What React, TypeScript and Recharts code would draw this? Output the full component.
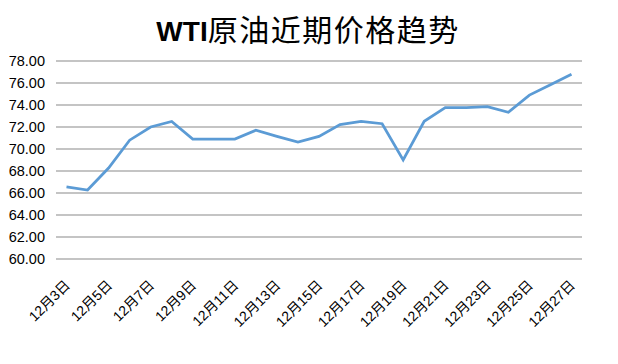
import React from 'react';
import { LineChart, Line, XAxis, YAxis, CartesianGrid } from 'recharts';

const dates = [
  '12月3日', '12月4日', '12月5日', '12月6日', '12月7日', '12月8日', '12月9日',
  '12月10日', '12月11日', '12月12日', '12月13日', '12月14日', '12月15日', '12月16日',
  '12月17日', '12月18日', '12月19日', '12月20日', '12月21日', '12月22日', '12月23日',
  '12月24日', '12月25日', '12月26日', '12月27日',
];

const prices = [
  66.55, 66.27, 68.27, 70.8, 72.0, 72.5, 70.9, 70.9, 70.9, 71.7, 71.15, 70.62, 71.15,
  72.22, 72.52, 72.3, 69.0, 72.52, 73.76, 73.76, 73.85, 73.34, 74.9, 75.85, 76.8,
];

const yTicks = [60, 62, 64, 66, 68, 70, 72, 74, 76, 78];

const chartData = dates.map((d, i) => ({ date: d, price: prices[i] }));

const labelFont = '"Liberation Sans", "Noto Sans CJK SC", sans-serif';

const DateTick = (props: any) => {
  const { x, y, payload } = props;
  const ex = x + 4.5;
  const ey = y + 27;
  return (
    <text
      x={ex}
      y={ey}
      textAnchor="end"
      fontSize={14}
      fill="#000"
      fontFamily={labelFont}
      transform={`rotate(-45, ${ex}, ${ey})`}
    >
      {payload.value}
    </text>
  );
};

const App: React.FC = () => {
  return (
    <div style={{ position: 'absolute', left: 0, top: 0, width: 618, height: 364, background: '#fff' }}>
      <svg width={618} height={50} style={{ position: 'absolute', left: 0, top: 0 }}>
        <text x={308} y={41} textAnchor="middle" fill="#000" fontFamily={labelFont}>
          <tspan fontWeight="bold" fontSize={28}>WTI</tspan>
          <tspan fontSize={30} letterSpacing={1.5}>原油近期价格趋势</tspan>
        </text>
      </svg>
      <LineChart
        width={618}
        height={364}
        data={chartData}
        margin={{ top: 61, right: 36, left: 0, bottom: 0 }}
      >
        <CartesianGrid stroke="#898989" strokeWidth={1} vertical={false} />
        <XAxis
          dataKey="date"
          interval={1}
          axisLine={false}
          tickLine={false}
          tickSize={0}
          tickMargin={0}
          height={105}
          padding={{ left: 10.5, right: 10.5 }}
          tick={<DateTick />}
        />
        <YAxis
          type="number"
          domain={[60, 78]}
          ticks={yTicks}
          interval={0}
          width={56}
          axisLine={false}
          tickLine={false}
          tickMargin={5}
          tickFormatter={(v: number) => v.toFixed(2)}
          tick={{ fontSize: 14.5, fill: '#000', fontFamily: labelFont }}
        />
        <Line
          type="linear"
          dataKey="price"
          stroke="#5B9BD5"
          strokeWidth={2.75}
          dot={false}
          activeDot={false}
          isAnimationActive={false}
        />
      </LineChart>
    </div>
  );
};

export default App;
